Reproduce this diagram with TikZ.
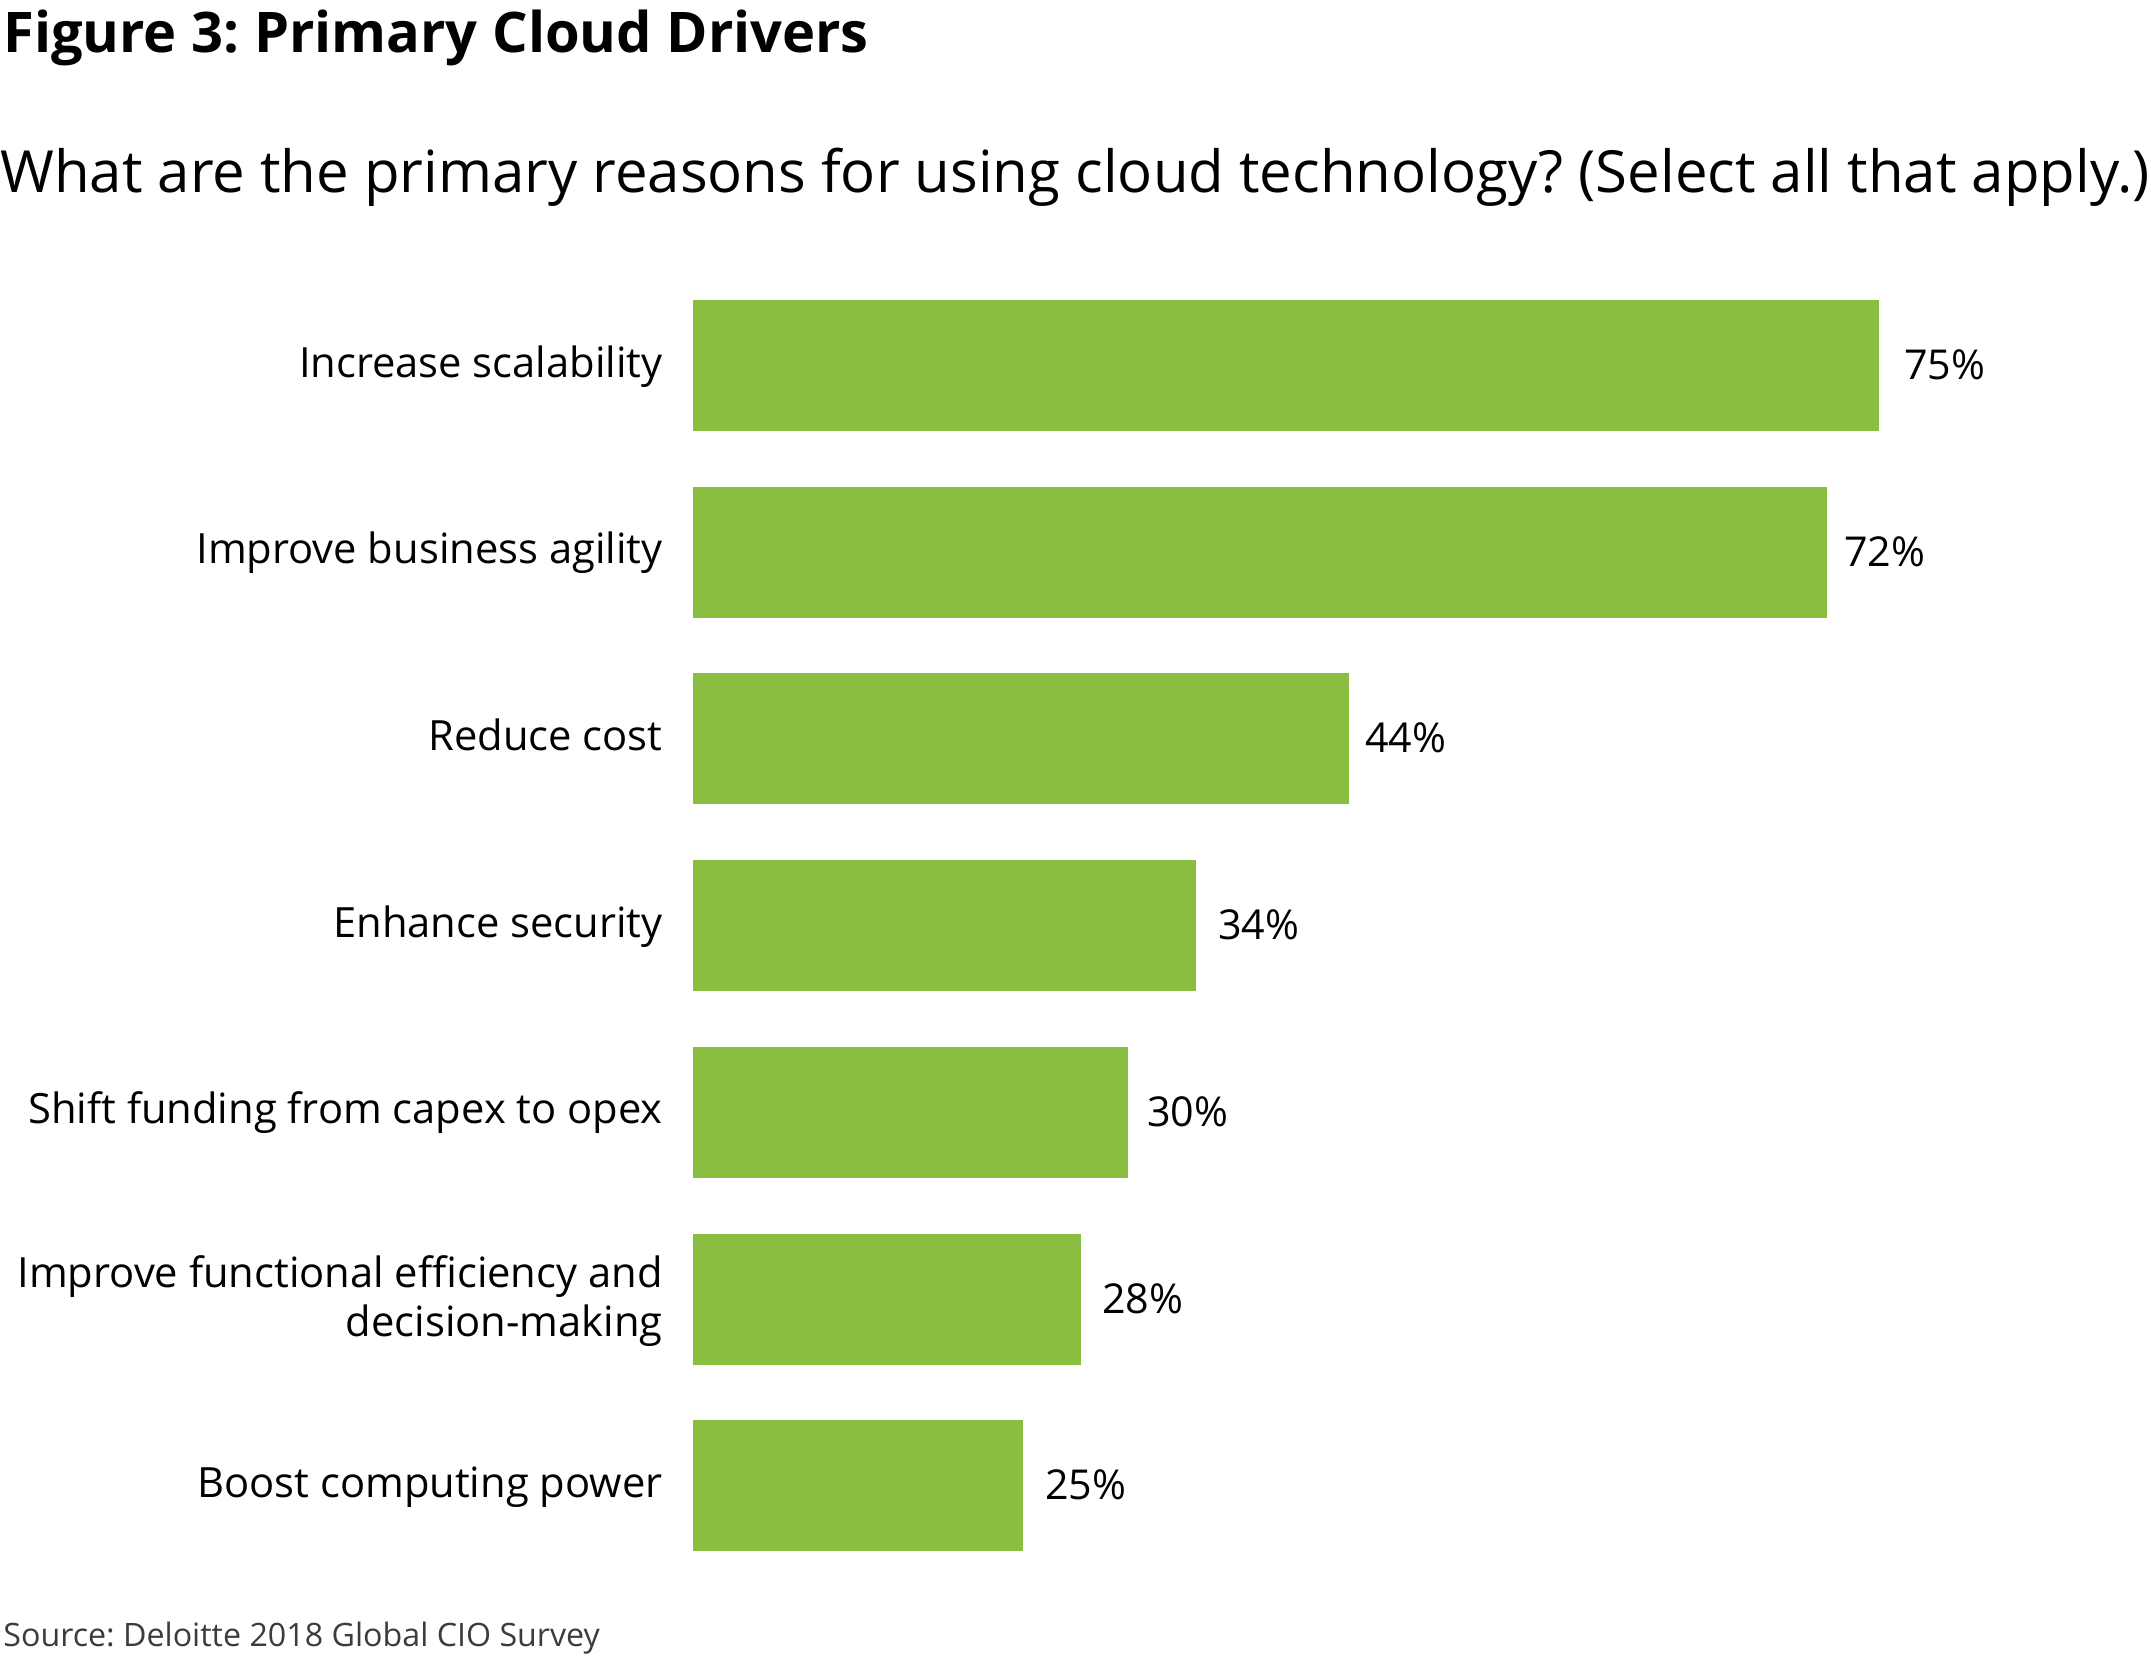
\documentclass[tikz,border=0pt]{standalone}
\usepackage{fontspec}
\setmainfont{Open Sans}
\usetikzlibrary{positioning}
\frenchspacing

\definecolor{barGreen}{RGB}{138,190,65}
\definecolor{srcGray}{RGB}{60,60,60}

\begin{document}
\begin{tikzpicture}[
  x=0.5pt, y=-0.5pt,
  bar/.style={fill=barGreen, draw=none, inner sep=0pt, outer sep=0pt,
    anchor=north west, minimum height=65.5pt},
  lab/.style={inner sep=0pt, align=right, font=\fontsize{20.85}{24.5}\selectfont},
  val/.style={inner sep=0pt, font=\fontsize{20.6}{24.5}\selectfont},
  txt/.style={inner sep=0pt, anchor=base west}]

  \useasboundingbox (0,0) rectangle (2151,1655);

  \node[txt, font=\fontsize{28}{34}\selectfont\bfseries] (title) at (3,52)
    {Figure 3: Primary Cloud Drivers};
  \node[txt, font=\fontsize{29.05}{35}\selectfont] (question) at (0,192)
    {What are the primary reasons for using cloud technology? (Select all that apply.)};

  % bars, labels and values
  \foreach \i/\w/\gap/\val/\txt in {
      1/1186/25/75/{Increase scalability},
      2/1134/17/72/{Improve business agility},
      3/656/16/44/{Reduce cost},
      4/503/22/34/{Enhance security},
      5/435/19/30/{Shift funding from capex to opex},
      6/388/21/28/{Improve functional efficiency and\\decision-making},
      7/330/22/25/{Boost computing power}}{
    \pgfmathsetmacro{\bartop}{300+(\i-1)*186.7}
    \node[bar, minimum width={\w*0.5pt}] (bar\i) at (693,\bartop) {};
    \node[val, anchor=base west] (val\i) at ([xshift=\gap*0.5pt, yshift=-7pt]bar\i.east) {\val\%};
    \ifnum\i=6
      \node[lab, anchor=east] (lab\i) at ([xshift=-15pt, yshift=-1pt]bar\i.west) {\txt};
    \else
      \node[lab, anchor=base east] (lab\i) at ([xshift=-15pt, yshift=-5.75pt]bar\i.west) {\txt};
    \fi
  }

  \node[txt, text=srcGray, font=\fontsize{16.1}{19}\selectfont] (source) at (3,1646)
    {Source: Deloitte 2018 Global CIO Survey};
\end{tikzpicture}
\end{document}
